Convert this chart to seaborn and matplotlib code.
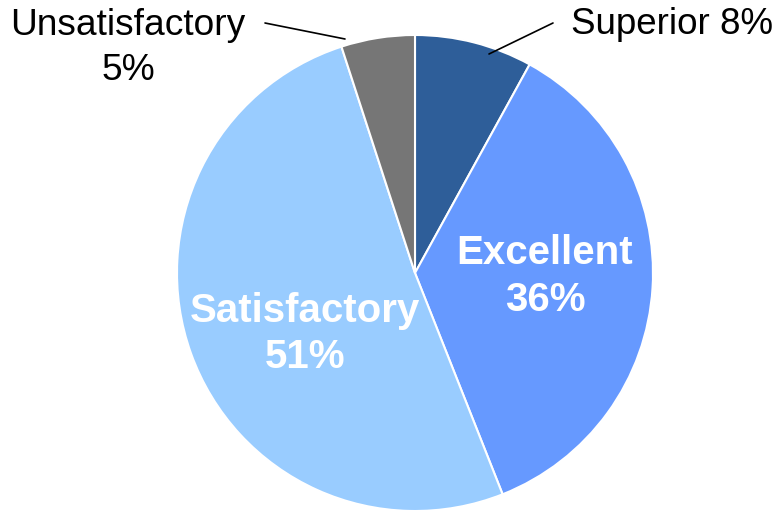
import matplotlib
matplotlib.use("Agg")
import matplotlib.pyplot as plt
import seaborn as sns

# Rating distribution
categories = ["Superior", "Excellent", "Satisfactory", "Unsatisfactory"]
shares = [8, 36, 51, 5]
slice_colors = ["#2E5E99", "#6699FF", "#99CCFF", "#767676"]

sns.set_theme(style="white")
plt.rcParams["font.family"] = ["Liberation Sans", "DejaVu Sans"]

W, H = 779, 511
fig = plt.figure(figsize=(W / 100, H / 100), dpi=100)
ax = fig.add_axes([0, 0, 1, 1])


def py(y):
    """Convert a top-down pixel row into the axes' bottom-up y value."""
    return H - y


ax.pie(
    shares,
    colors=slice_colors,
    startangle=90,
    counterclock=False,
    center=(415, py(273)),
    radius=238,
    wedgeprops=dict(edgecolor="white", linewidth=1.5),
)
ax.set_xlim(0, W)
ax.set_ylim(0, H)
ax.set_aspect("equal")
ax.axis("off")

# Inside labels (bold, white)
ax.text(545, py(276), f"{categories[1]}\n{shares[1]}%", ha="center", va="center",
        color="white", fontsize=29, fontweight="bold", linespacing=1.3)
ax.text(305, py(334), f"{categories[2]}\n{shares[2]}%", ha="center", va="center",
        color="white", fontsize=29, fontweight="bold", linespacing=1.3)

# Outside labels with leader lines
ax.text(672, py(24), f"{categories[0]} {shares[0]}%", ha="center", va="center",
        color="black", fontsize=26.5)
ax.plot([553, 489], [py(23), py(54)], color="black", linewidth=1.2)

ax.text(128, py(48), f"{categories[3]}\n{shares[3]}%", ha="center", va="center",
        color="black", fontsize=26.7, linespacing=1.38)
ax.plot([265, 345], [py(23), py(39)], color="black", linewidth=1.2)

fig.savefig("out.png", dpi=100)
